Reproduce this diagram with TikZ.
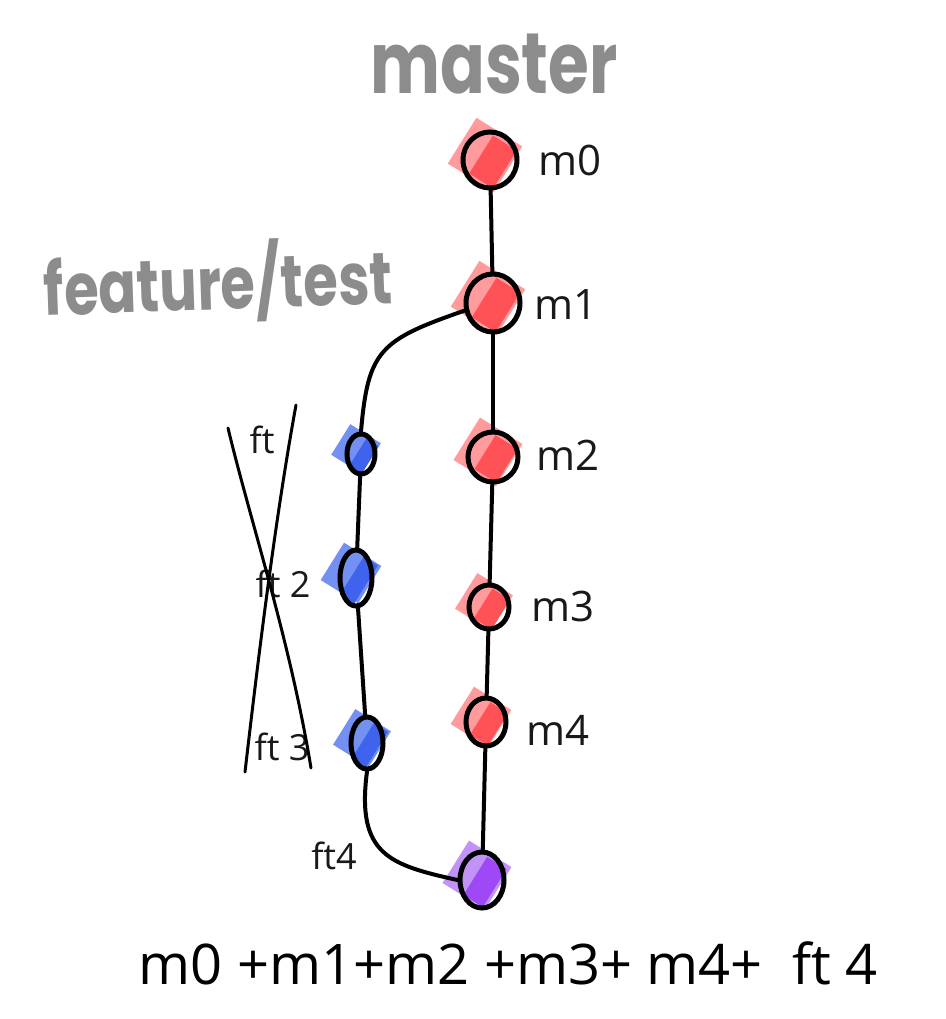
\documentclass[tikz,border=0pt]{standalone}
\usepackage{fontspec}
\setmainfont{Open Sans}
\newfontfamily\titlefont{Poppins}
\usetikzlibrary{shapes.geometric}
\definecolor{redin}{HTML}{FF5257}
\definecolor{redsq}{HTML}{FF9A9D}
\definecolor{bluein}{HTML}{3F63EC}
\definecolor{bluesq}{HTML}{7390F2}
\definecolor{purpin}{HTML}{9F48F6}
\definecolor{purpsq}{HTML}{C193F7}
\definecolor{titlegray}{HTML}{8C8C8C}
\tikzset{
  commit/.style={ellipse, draw=black, line width=5pt, inner sep=0pt},
  link/.style={draw=black, line width=4pt, line cap=round},
  strike/.style={draw=black, line width=3pt, line cap=round},
  lbl/.style={font=\fontsize{42}{46}\selectfont, text=black!90, inner sep=0pt},
  smlbl/.style={font=\fontsize{36}{40}\selectfont, text=black!90, inner sep=0pt},
  title/.style={font=\titlefont\bfseries\fontsize{66}{70}\selectfont, text=titlegray, inner sep=0pt},
}
% #1 name, #2 x, #3 y, #4 w, #5 h, #6 inner colour, #7 square colour, #8 square size
\newcommand\commitnode[8]{%
  \fill[#7, rotate around={-32:(#2-5,#3-5)}] (#2-5-#8/2,#3-5-#8/2) rectangle +(#8,#8);
  \fill[#6, rotate around={-32:(#2+3,#3+2)}] (#2+3-#4*0.26,#3+2-#5*0.40) rectangle +(#4*0.52,#5*0.8);
  \node[commit, minimum width=#4pt, minimum height=#5pt] (#1) at (#2,#3) {};
}
\begin{document}
\begin{tikzpicture}[x=1pt,y=-1pt]
\useasboundingbox (0,0) rectangle (945,1019);
\fill[white] (0,0) rectangle (945,1019);

% titles
\node[title] (tmaster) at (494,64) {\scalebox{1}[1.3]{master}};
\node[title, rotate=2, font=\titlefont\bfseries\fontsize{56}{60}\selectfont] (tfeature) at (218,282) {\scalebox{1}[1.3]{feature/test}};

% commits
\commitnode{m0}{490}{160}{54}{56}{redin}{redsq}{54}
\commitnode{m1}{493}{303}{54}{58}{redin}{redsq}{54}
\commitnode{m2}{493}{457}{50}{50}{redin}{redsq}{50}
\commitnode{m3}{489}{607}{40}{44}{redin}{redsq}{42}
\commitnode{m4}{486}{722}{40}{48}{redin}{redsq}{44}
\commitnode{mg}{482}{880}{44}{56}{purpin}{purpsq}{50}
\commitnode{f1}{361}{454}{28}{40}{bluein}{bluesq}{36}
\commitnode{f2}{356}{578}{32}{56}{bluein}{bluesq}{44}
\commitnode{f3}{367}{743}{32}{52}{bluein}{bluesq}{42}

% links
\draw[link] (m0) -- (m1);
\draw[link] (m1) -- (m2);
\draw[link] (m2) -- (m3);
\draw[link] (m3) -- (m4);
\draw[link] (m4) -- (mg);
\draw[link] (f1) -- (f2);
\draw[link] (f2) -- (f3);
\draw[link] (m1.195) .. controls (380,340) and (368,350) .. (f1.north);
\draw[link] (f3.south) .. controls (356,855) and (390,865) .. (mg.west);

% labels
\node[lbl, anchor=west] (lm0) at (538,160) {m0};
\node[lbl, anchor=west] (lm1) at (534,305) {m1};
\node[lbl, anchor=west] (lm2) at (536,455) {m2};
\node[lbl, anchor=west] (lm3) at (531,606) {m3};
\node[lbl, anchor=west] (lm4) at (526,730) {m4};

\node[smlbl] (lf1) at (262,440) {ft};
\node[smlbl] (lf2) at (283,584) {ft 2};
\node[smlbl] (lf3) at (282,747) {ft 3};
\node[smlbl] (lf4) at (334,856) {ft4};

% strike-through lines
\coordinate (sa1) at (228,428);
\coordinate (sa2) at (311,768);
\coordinate (sb1) at (296,405);
\coordinate (sb2) at (245,772);
\draw[strike] (sa1) .. controls (250,520) and (290,640) .. (sa2);
\draw[strike] (sb1) .. controls (275,520) and (258,660) .. (sb2);

% bottom sum
\node[font=\fontsize{56}{60}\selectfont, inner sep=0pt] (sum) at (508,963) {m0 +m1+m2 +m3+ m4+ \ ft 4};
\end{tikzpicture}
\end{document}
